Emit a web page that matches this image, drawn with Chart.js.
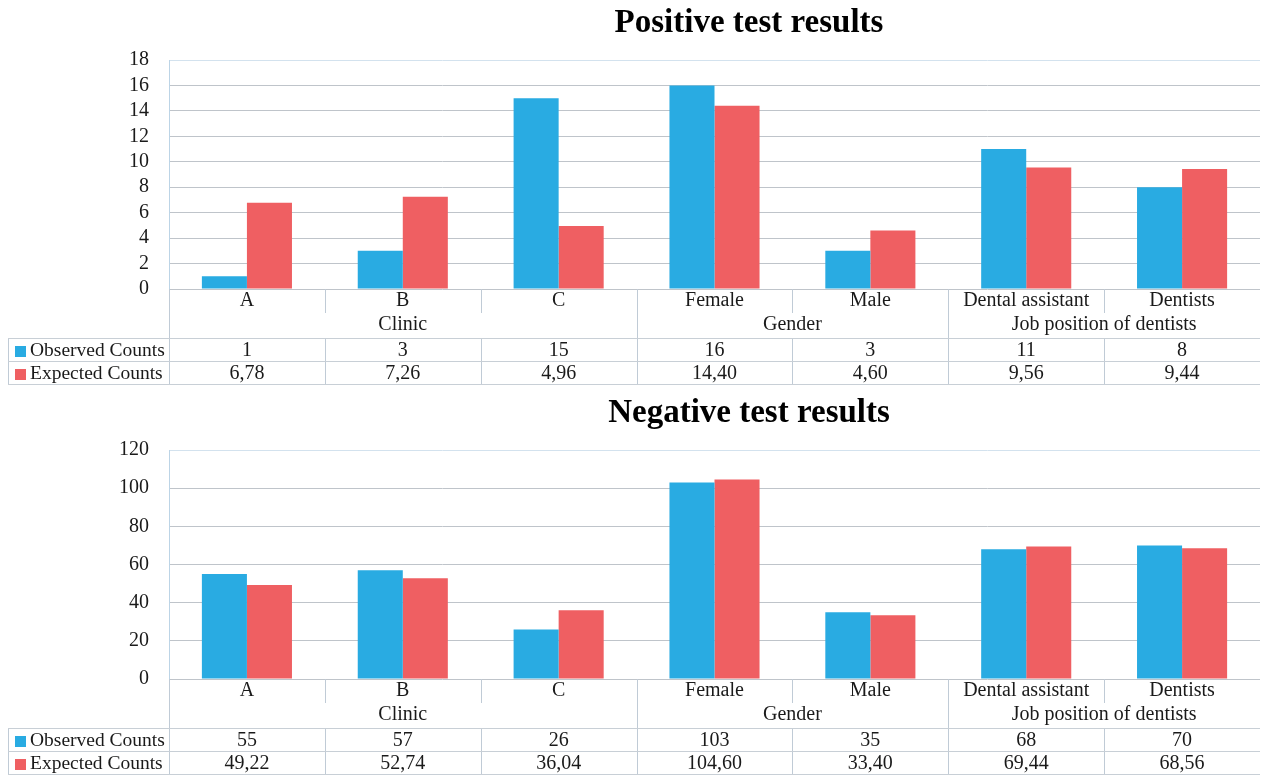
<!DOCTYPE html>
<html><head><meta charset="utf-8">
<script src="https://cdn.jsdelivr.net/npm/chart.js@4.4.0/dist/chart.umd.min.js"></script>
<style>
html,body{margin:0;padding:0;background:#fff;overflow:hidden;width:1261px;height:776px}
.panel{position:absolute;left:0;width:1261px;height:390px}
canvas{display:block}
</style></head><body>
<div class="panel" style="top:0"><canvas id="c1" width="1261" height="390"></canvas></div>
<div class="panel" style="top:390px"><canvas id="c2" width="1261" height="390"></canvas></div>
<script>
const categories = ['A','B','C','Female','Male','Dental assistant','Dentists'];
const groupLabels = ['Clinic','Gender','Job position of dentists'];
const groupSizes = [3,2,2];
const seriesNames = ['Observed Counts','Expected Counts'];
const posObserved = [1,3,15,16,3,11,8];
const posExpected = [6.78,7.26,4.96,14.40,4.60,9.56,9.44];
const negObserved = [55,57,26,103,35,68,70];
const negExpected = [49.22,52.74,36.04,104.60,33.40,69.44,68.56];
const posAxis = [0,18,2];
const negAxis = [0,120,20];
const titles = ['Positive test results','Negative test results'];

const BLUE = '#29abe2', RED = '#ef5f62';
const SERIF = '"Liberation Serif","Times New Roman",serif';
const TXT = '#1a1a1a';

function fmtObs(v){ return String(v); }
function fmtExp(v){ return v.toFixed(2).replace('.', ','); }

function tablePlugin(title, obs, exp){
  return {
    id:'tbl',
    afterDraw(chart){
      const ctx = chart.ctx, xs = chart.scales.x, a = chart.chartArea;
      const centers = categories.map((_,i)=>xs.getPixelForValue(i));
      const half = (centers[1]-centers[0])/2;
      const bounds = [centers[0]-half].concat(centers.map(c=>c+half));
      const labelY = 301, groupY = 325, shortBot = 313;
      const t0 = 338, t1 = 361, t2 = 384, leftX = 8;
      ctx.save();
      // title
      ctx.fillStyle = '#000';
      ctx.font = 'bold 33px ' + SERIF;
      ctx.textAlign = 'center'; ctx.textBaseline = 'middle';
      ctx.fillText(title, 749, 23);
      // lines
      ctx.lineWidth = 1;
      ctx.strokeStyle = '#c0cbd6';
      const vline = (x,y0,y1)=>{ctx.beginPath();ctx.moveTo(Math.round(x)+0.5,y0);ctx.lineTo(Math.round(x)+0.5,y1);ctx.stroke();};
      const hline = (y,x0,x1)=>{ctx.beginPath();ctx.moveTo(x0,y+0.5);ctx.lineTo(x1,y+0.5);ctx.stroke();};
      const gb = [0]; groupSizes.forEach(s=>gb.push(gb[gb.length-1]+s));
      for (let i=0;i<bounds.length-1;i++){
        const isGroup = gb.indexOf(i) >= 0;
        if (isGroup) vline(bounds[i], a.bottom, t2);
        else { vline(bounds[i], a.bottom, shortBot); vline(bounds[i], t0, t2); }
      }
      vline(leftX, t0, t2);
      ctx.strokeStyle = '#c8cfd6';
      hline(t0, leftX, a.right);
      hline(t1, leftX, a.right);
      hline(t2, leftX, a.right);
      // category labels
      ctx.fillStyle = TXT;
      ctx.font = '20px ' + SERIF;
      ctx.textAlign = 'center'; ctx.textBaseline = 'middle';
      categories.forEach((c,i)=>ctx.fillText(c, centers[i], labelY));
      groupLabels.forEach((g,k)=>{
        const cx = (bounds[gb[k]] + bounds[gb[k+1]])/2;
        ctx.fillText(g, cx, groupY);
      });
      // table values
      obs.forEach((v,i)=>ctx.fillText(fmtObs(v), centers[i], (t0+t1)/2+1));
      exp.forEach((v,i)=>ctx.fillText(fmtExp(v), centers[i], (t1+t2)/2+1));
      // legend column
      ctx.textAlign = 'left';
      ctx.font = '19.5px ' + SERIF;
      [[seriesNames[0], BLUE, (t0+t1)/2+1],[seriesNames[1], RED, (t1+t2)/2+1]].forEach(([name,col,y])=>{
        ctx.fillStyle = col; ctx.fillRect(15, Math.round(y-5), 11, 11);
        ctx.fillStyle = TXT; ctx.fillText(name, 30, y);
      });
      ctx.restore();
    }
  };
}

function build(id, title, obs, exp, axis){
  const [mn, mx, st] = axis;
  new Chart(document.getElementById(id), {
    type:'bar',
    data:{
      labels: categories,
      datasets:[
        {label:seriesNames[0], data:obs, backgroundColor:BLUE, borderWidth:0},
        {label:seriesNames[1], data:exp, backgroundColor:RED, borderWidth:0}
      ]
    },
    options:{
      responsive:false, animation:false,
      devicePixelRatio:1,
      layout:{padding:{top:60, bottom:101, left:0, right:1}},
      datasets:{bar:{categoryPercentage:0.578, barPercentage:1}},
      plugins:{legend:{display:false}, title:{display:false}, tooltip:{enabled:false}},
      scales:{
        x:{display:false, grid:{display:false}},
        y:{
          min:mn, max:mx,
          afterFit(s){ s.width = 169; },
          border:{display:true, color:'#bcd4e6'},
          grid:{drawTicks:false, color:(c)=> (c.tick && c.tick.value===mx) ? '#d3e2ee' : '#bfc4ca'},
          ticks:{stepSize:st, autoSkip:false, padding:20, color:TXT, font:{family:SERIF, size:20}}
        }
      }
    },
    plugins:[tablePlugin(title, obs, exp)]
  });
}
build('c1', titles[0], posObserved, posExpected, posAxis);
build('c2', titles[1], negObserved, negExpected, negAxis);
</script>
</body></html>
